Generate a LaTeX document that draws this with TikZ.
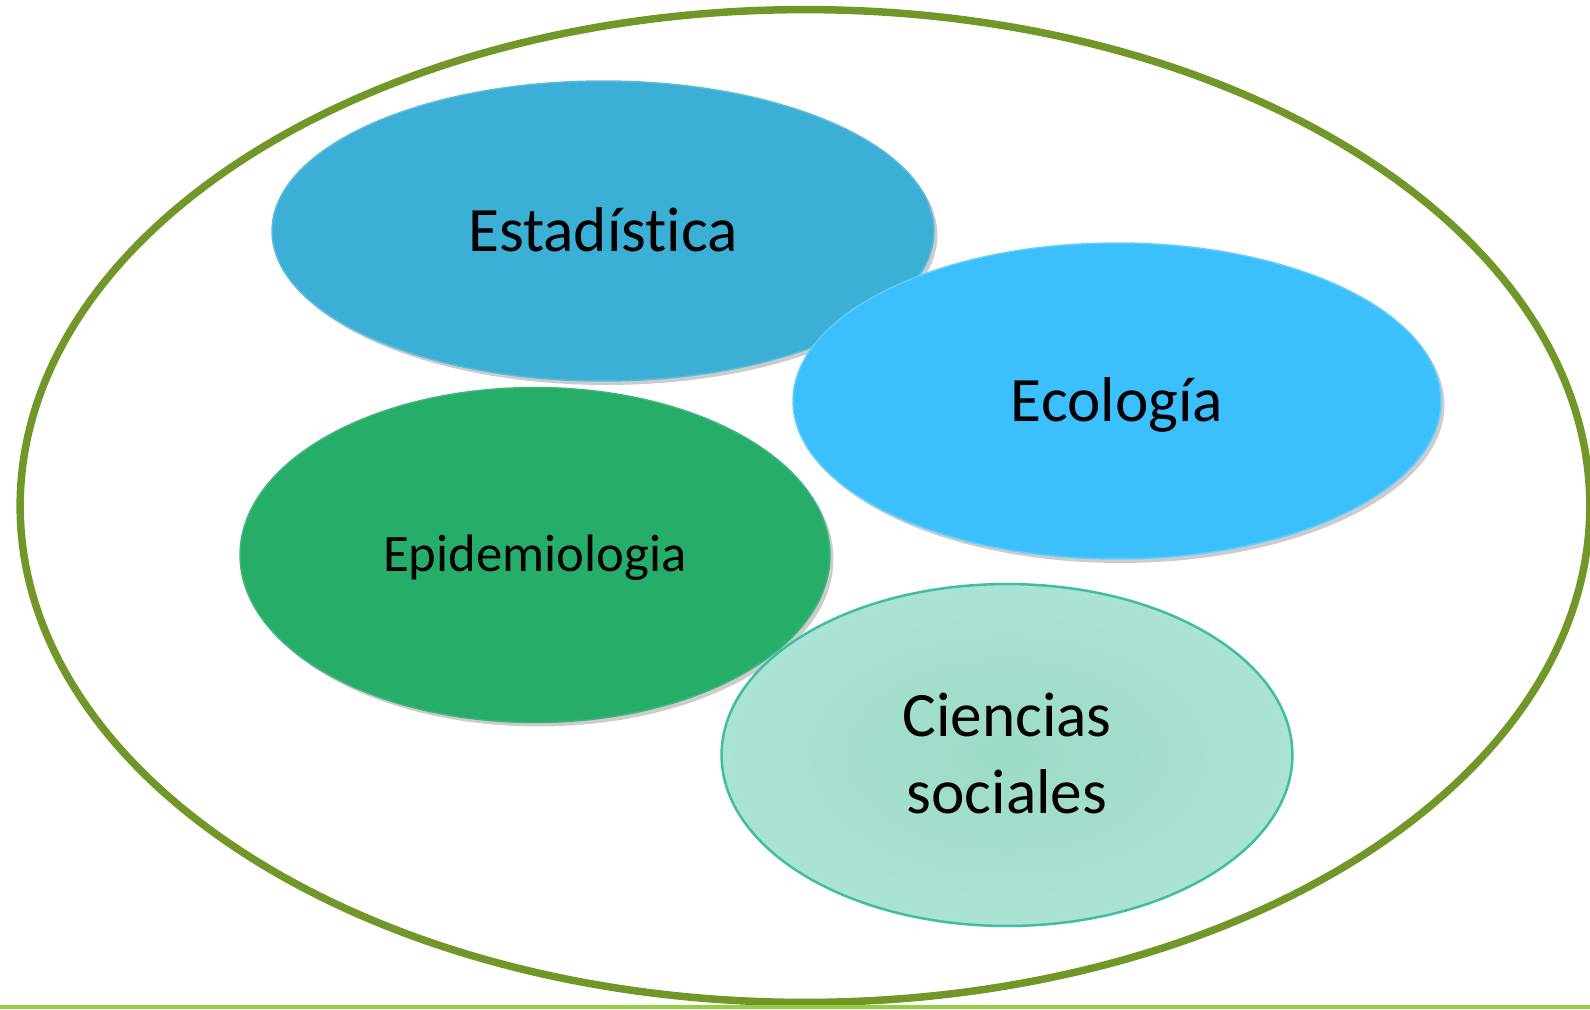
\documentclass[tikz,border=0pt]{standalone}
\usepackage{fontspec}
\setmainfont{Carlito}[Ligatures=NoCommon]
\usetikzlibrary{shapes.geometric,shadows}

\definecolor{borde}{RGB}{112,151,40}
\definecolor{linea}{RGB}{150,205,70}
\definecolor{estad}{RGB}{59,175,213}
\definecolor{ecolo}{RGB}{59,191,253}
\definecolor{epide}{RGB}{39,173,106}
\definecolor{cienc}{RGB}{170,226,212}
\definecolor{ciencc}{RGB}{156,218,200}
\definecolor{cienb}{RGB}{64,191,160}

\begin{document}
\begin{tikzpicture}[x=0.02cm,y=-0.02cm,
    area/.style={ellipse,inner sep=0pt,text=black,
        font=\fontsize{36}{43.7}\selectfont,text height=23pt,text depth=0pt},
    sombra/.style={drop shadow={shadow xshift=0.07cm,shadow yshift=-0.08cm,opacity=0.4}}]
    \useasboundingbox (0,0) rectangle (1590,1009);

    \node[ellipse,draw=borde,line width=0.15cm,
        minimum width=31.4cm,minimum height=19.86cm] (campo) at (805,506) {};

    \node[area,sombra,fill=estad,draw=estad!85!white,line width=0.03cm,
        minimum width=13.24cm,minimum height=6cm]   (estad) at (603,231) {Estadística};
    \node[area,sombra,fill=epide,draw=epide!90!white,line width=0.03cm,
        font=\fontsize{30}{36}\selectfont,text height=19pt,
        minimum width=11.8cm,minimum height=6.7cm]  (epide) at (535,555) {Epidemiologia};
    \node[area,sombra,fill=ecolo,draw=ecolo!80!white,line width=0.03cm,
        minimum width=12.96cm,minimum height=6.32cm] (ecolo) at (1117,401) {Ecología};
    \node[area,shading=radial,inner color=ciencc,outer color=cienc,
        draw=cienb,line width=0.05cm,align=center,text height=66.7pt,
        minimum width=11.42cm,minimum height=6.84cm] (cienc) at (1007,755) {Ciencias\\sociales};

    \draw[linea,line width=0.07cm] (0,1007) -- (1590,1007);
\end{tikzpicture}
\end{document}
